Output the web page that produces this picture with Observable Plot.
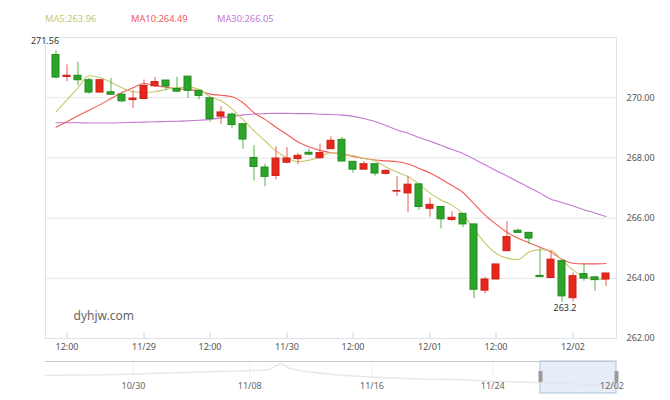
<!DOCTYPE html>
<html><head><meta charset="utf-8">
<script src="https://cdn.jsdelivr.net/npm/d3@7"></script>
<script src="https://cdn.jsdelivr.net/npm/@observablehq/plot@0.6"></script>
<style>
body{margin:0;background:#fff;font-family:"Noto Sans",sans-serif;}
#wrap{position:relative;width:670px;height:400px;overflow:hidden;background:#fff}
#legend{position:relative;height:30px;font-size:9.3px}
#legend span{position:absolute;top:12px;line-height:14px;white-space:nowrap}
#main svg,#slider svg{display:block}
</style></head><body><div id="wrap"><div id="legend"></div><div id="main"></div><div id="slider"></div></div>
<script>
// ---- candle data (hourly) ----
const open  = [271.42,270.69,270.73,270.58,270.17,270.18,270.10,269.92,269.96,270.38,270.57,270.29,270.70,270.23,269.98,269.37,269.44,269.12,268.00,267.68,267.40,267.84,267.96,268.17,267.99,268.29,268.60,267.87,267.61,267.79,267.47,266.88,266.82,267.12,266.31,266.37,265.94,266.14,265.79,263.59,263.96,264.90,265.58,265.51,264.08,264.01,264.57,263.34,264.14,264.03,263.96];
const close = [270.67,270.73,270.58,270.17,270.58,270.10,269.88,269.97,270.39,270.52,270.37,270.20,270.23,270.06,269.29,269.51,269.09,268.61,267.70,267.37,267.98,267.98,268.07,268.11,268.16,268.57,267.88,267.61,267.79,267.48,267.57,266.90,267.11,266.37,266.44,265.96,266.01,265.79,263.62,263.96,264.46,265.37,265.51,265.32,264.04,264.62,263.40,264.07,263.99,263.94,264.16];
const high  = [271.56,271.09,271.18,270.64,270.60,270.64,270.14,270.23,270.59,270.68,270.57,270.68,270.70,270.23,269.98,269.70,269.49,269.12,268.41,267.79,268.37,268.34,268.14,268.29,268.46,268.70,268.68,267.87,267.88,267.79,267.60,267.37,267.38,267.14,266.66,266.37,266.21,266.14,265.79,264.03,264.46,265.88,265.64,265.51,264.98,264.90,264.57,264.18,264.48,264.07,264.16];
const low   = [270.62,270.53,270.40,270.12,270.15,270.07,269.83,269.64,269.96,270.34,270.22,270.20,269.98,269.93,269.19,269.12,268.98,268.29,267.23,267.04,267.27,267.80,267.77,268.07,267.96,268.29,267.88,267.49,267.61,267.39,267.43,266.71,266.18,266.26,266.03,265.64,265.90,265.68,263.32,263.48,263.96,264.88,265.51,265.12,264.03,263.99,263.20,263.22,263.90,263.57,263.73];
// ---- moving averages as drawn ----
const ma5  = [269.53,269.93,270.33,270.73,270.67,270.51,270.33,270.20,270.18,270.20,270.28,270.33,270.35,270.28,270.03,269.90,269.63,269.27,268.90,268.57,268.23,268.00,267.87,267.92,268.03,268.17,268.13,268.07,267.98,267.90,267.70,267.53,267.38,267.13,266.83,266.60,266.43,266.13,265.63,265.17,264.83,264.67,264.62,264.87,264.95,264.93,264.60,264.27,264.05,263.98,263.96];
const ma10 = [269.02,269.20,269.40,269.58,269.77,269.97,270.17,270.33,270.47,270.40,270.35,270.30,270.27,270.23,270.12,270.08,270.03,269.83,269.50,269.28,269.02,268.78,268.53,268.37,268.25,268.17,268.13,268.05,267.98,267.93,267.90,267.87,267.80,267.65,267.50,267.30,267.08,266.85,266.47,266.10,265.80,265.53,265.33,265.18,265.03,264.87,264.63,264.50,264.48,264.48,264.49];
const ma30 = [269.17,269.17,269.17,269.16,269.16,269.16,269.17,269.18,269.19,269.20,269.21,269.22,269.23,269.25,269.28,269.33,269.38,269.43,269.46,269.47,269.48,269.48,269.47,269.47,269.45,269.44,269.42,269.38,269.31,269.21,269.08,268.93,268.82,268.68,268.55,268.42,268.28,268.15,267.96,267.77,267.58,267.40,267.21,267.02,266.83,266.63,266.52,266.40,266.28,266.17,266.05];
// ---- axes ----
const xTickIdx    = [1, 8, 14, 21, 27, 34, 40, 47];
const xTickLabels = ["12:00","11/29","12:00","11/30","12:00","12/01","12:00","12/02"];
const yTicks = [262, 264, 266, 268, 270];
const yDomain = [262, 272];
// ---- data-zoom slider ----
const sliderTotal = 383;
const sliderLabelIdx = [59, 137, 219, 300, 380];
const sliderLabels = ["10/30","11/08","11/16","11/24","12/02"];
const shadowIdx = [0, 48, 98, 149, 158, 164, 200, 225, 251, 276, 301, 327, 383];
const shadowVal = [275.0, 275.8, 278.3, 280.8, 287.5, 282.3, 275.0, 272.5, 270.9, 270.3, 268.3, 267.0, 263.8];

const C = {ma5: "#c8c86a", ma10: "#f25a5a", ma30: "#c47ad0", up: "#e5281e", upS: "#cf1f15", dn: "#2ea42b", dnS: "#1f8c1d"};

// legend
const legend = document.getElementById("legend");
[["MA5", ma5, C.ma5, 45], ["MA10", ma10, C.ma10, 131], ["MA30", ma30, C.ma30, 217]].forEach(([n, a, col, left]) => {
  const s = document.createElement("span");
  s.textContent = `${n}:${a[a.length - 1].toFixed(2)}`;
  s.style.color = col; s.style.left = left + "px";
  legend.appendChild(s);
});

const idx = d3.range(open.length);
const candles = idx.map(i => ({i, o: open[i], c: close[i], h: high[i], l: low[i], up: close[i] >= open[i]}));
const ups = candles.filter(d => d.up), dns = candles.filter(d => !d.up);
const iMax = d3.maxIndex(high), iMin = d3.minIndex(low);
const maLine = (arr, col) => Plot.line(idx, {x: i => i, y: i => arr[i], stroke: col, strokeWidth: 1.1, curve: "monotone-x"});

const main = Plot.plot({
  width: 670, height: 328, marginTop: 7, marginBottom: 20, marginLeft: 45, marginRight: 54,
  style: {fontFamily: "'Noto Sans', sans-serif", fontSize: "9px", color: "#555", background: "#fff", overflow: "visible"},
  x: {type: "band", domain: idx, paddingInner: 0.4, paddingOuter: 0.2, axis: "bottom", ticks: xTickIdx,
      tickFormat: i => xTickLabels[xTickIdx.indexOf(i)], tickSize: 0, tickPadding: 5, label: null},
  y: {domain: yDomain, axis: "right", ticks: yTicks, tickFormat: d3.format(".2f"), tickSize: 0, tickPadding: 10, label: null},
  marks: [
    Plot.ruleY(yTicks.slice(1), {stroke: "#e6e6e6"}),
    Plot.frame({stroke: "#dde2ea"}),
    Plot.ruleX(xTickIdx, {x: d => d, y1: yDomain[0], y2: yDomain[0] + 0.18, stroke: "#ccd3dd"}),
    Plot.text(["dyhjw.com"], {text: d => d, frameAnchor: "bottom-left", textAnchor: "start", lineAnchor: "middle", dx: 28, dy: -22, fontSize: 12, fill: "#666"}),
    maLine(ma30, C.ma30),
    maLine(ma10, C.ma10),
    maLine(ma5, C.ma5),
    Plot.ruleX(ups, {x: "i", y1: "l", y2: "h", stroke: "#ec5a4f"}),
    Plot.ruleX(dns, {x: "i", y1: "l", y2: "h", stroke: "#55b548"}),
    Plot.barY(ups, {x: "i", y1: "o", y2: "c", fill: C.up, stroke: C.upS, strokeWidth: 1}),
    Plot.barY(dns, {x: "i", y1: "o", y2: "c", fill: C.dn, stroke: C.dnS, strokeWidth: 1}),
    Plot.text([candles[iMax]], {x: "i", y: "h", text: d => String(d.h), dx: -11, dy: -10, fill: "#333"}),
    Plot.text([candles[iMin]], {x: "i", y: "l", text: d => String(d.l), dx: 3, dy: 6, fill: "#333"})
  ]
});
document.getElementById("main").appendChild(main);

const winStart = sliderTotal - open.length;
const slider = Plot.plot({
  width: 670, height: 42, marginTop: 3, marginBottom: 7, marginLeft: 45, marginRight: 54,
  style: {fontFamily: "'Noto Sans', sans-serif", fontSize: "9px", color: "#666", background: "#fff", overflow: "visible"},
  x: {domain: [0, sliderTotal], axis: null},
  y: {domain: [255, 290], axis: null},
  marks: [
    Plot.ruleX(sliderLabelIdx, {x: d => d, y1: 290, y2: 274, stroke: "#efefef"}),
    Plot.line(shadowIdx, {x: d => d, y: (d, k) => shadowVal[k], stroke: "#e8e8e8", curve: "monotone-x"}),
    Plot.rect([0], {x1: () => winStart, x2: () => sliderTotal, y1: () => 255, y2: () => 290, fill: "#dce8f6", fillOpacity: 0.75, stroke: "#aac2dc"}),
    Plot.ruleY([290], {stroke: "#c8c8c8"}),
    Plot.ruleX([winStart, sliderTotal], {x: d => d, y1: 267, y2: 279, stroke: "#9a9a9a", strokeWidth: 4}),
    Plot.text(sliderLabels, {x: (d, k) => sliderLabelIdx[k], text: d => d, frameAnchor: "bottom", lineAnchor: "middle", dy: -7, fill: "#666"})
  ]
});
document.getElementById("slider").appendChild(slider);
</script>
</body></html>
